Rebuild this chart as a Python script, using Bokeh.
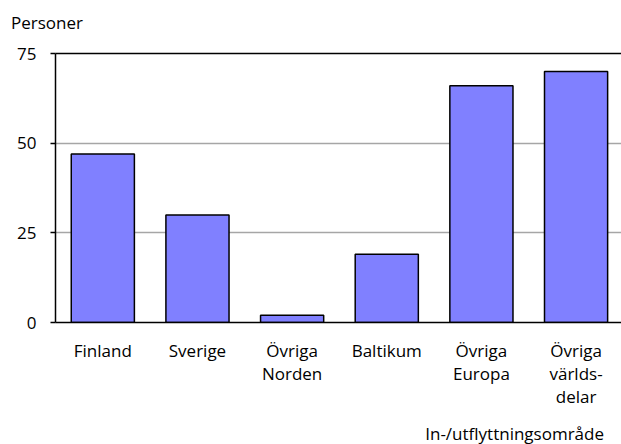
from bokeh.plotting import figure
from bokeh.models import LinearAxis, FixedTicker, Range1d, Div
from bokeh.layouts import column
from bokeh.embed import file_html
from bokeh.resources import INLINE

categories = ["Finland", "Sverige", "Övriga\nNorden", "Baltikum", "Övriga\nEuropa", "Övriga\nvärlds-\ndelar"]
values = [47, 30, 2, 19, 66, 70]
y_ticks = [0, 25, 50, 75]
y_title = "Personer"
x_title = "In-/utflyttningsområde"
x_pos = list(range(len(categories)))

FONT = "Open Sans"
FS = "17px"

TOP_H = 40
BOT_H = 30
FIG_H = 444 - TOP_H - BOT_H

p = figure(width=621, height=FIG_H, output_backend="svg", toolbar_location=None,
           x_range=Range1d(-0.5, 5.48), y_range=Range1d(0, 75),
           min_border_left=55, min_border_right=0, min_border_top=53 - TOP_H,
           min_border_bottom=92, margin=0)
p.outline_line_color = None
p.background_fill_color = "white"
p.border_fill_color = "white"

p.vbar(x=x_pos, top=values, width=0.667, fill_color="#8080FF",
       line_color="black", line_width=1.5)

# y axis
p.yaxis.ticker = FixedTicker(ticks=y_ticks)
p.yaxis.minor_tick_line_color = None
p.yaxis.major_tick_in = 0
p.yaxis.major_tick_out = 5
p.yaxis.major_tick_line_color = "black"
p.yaxis.major_tick_line_width = 1.5
p.yaxis.axis_line_color = "black"
p.yaxis.axis_line_width = 1.5
p.yaxis.major_label_text_font = FONT
p.yaxis.major_label_text_font_size = FS
p.yaxis.major_label_text_color = "black"
p.yaxis.major_label_standoff = 14

# x axis
p.xaxis.ticker = FixedTicker(ticks=x_pos)
p.xaxis.major_label_overrides = {i: c for i, c in zip(x_pos, categories)}
p.xaxis.major_tick_line_color = None
p.xaxis.minor_tick_line_color = None
p.xaxis.axis_line_color = "black"
p.xaxis.axis_line_width = 1.5
p.xaxis.major_label_text_font = FONT
p.xaxis.major_label_text_font_size = FS
p.xaxis.major_label_text_color = "black"
p.xaxis.major_label_text_line_height = 1.0
p.xaxis.major_label_standoff = 10

# top frame line
top_axis = LinearAxis(ticker=FixedTicker(ticks=[]), axis_line_color="black", axis_line_width=1.5,
                      major_tick_line_color=None, minor_tick_line_color=None,
                      major_label_text_font_size="0px")
p.add_layout(top_axis, "above")

# grid
p.xgrid.grid_line_color = None
p.ygrid.ticker = FixedTicker(ticks=y_ticks)
p.ygrid.grid_line_color = "#a6a6a6"
p.ygrid.grid_line_width = 1.5

txt_style = "font-family:'Open Sans';font-size:17px;line-height:23px;color:black;white-space:nowrap;"
top_div = Div(text=f'<div style="{txt_style}padding:11px 0 0 11px;">{y_title}</div>',
              width=621, height=TOP_H, margin=0)
bot_div = Div(text=f'<div style="{txt_style}padding-top:8px;text-align:right;width:604px;">{x_title}</div>',
              width=621, height=BOT_H, margin=0)

layout = column(top_div, p, bot_div, spacing=0, margin=0)

open("out.html", "w").write(file_html(layout, INLINE))
